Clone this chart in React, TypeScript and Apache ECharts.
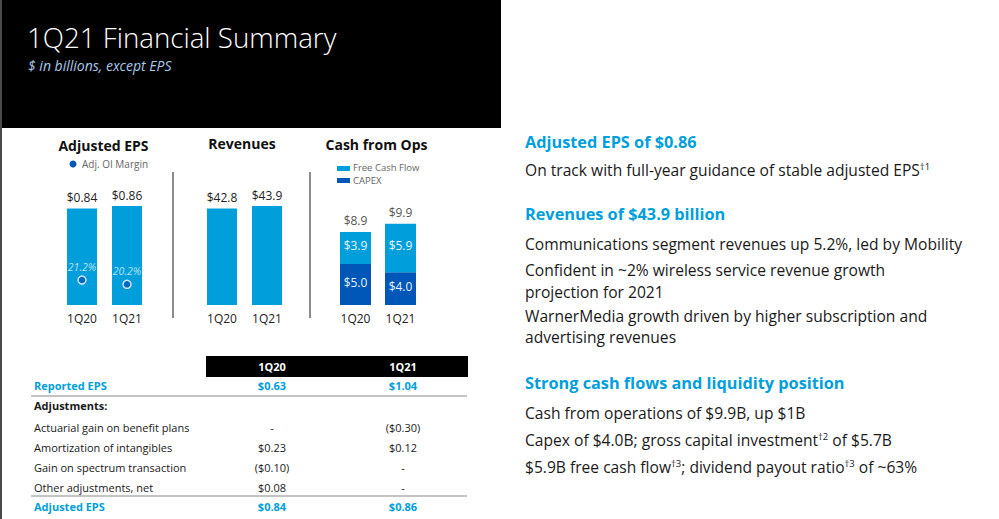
import React, { useEffect, useRef } from "react";
import * as echarts from "echarts";

// ---------- data ----------
const quarters = ["1Q20", "1Q21"];
const adjustedEps = [0.84, 0.86];
const adjOiMargin = [21.2, 20.2];
const revenues = [42.8, 43.9];
const capex = [5.0, 4.0];
const freeCashFlow = [3.9, 5.9];
const cashFromOps = [8.9, 9.9];

const tableCols = ["1Q20", "1Q21"];
const tableRowLabels = [
  "Reported EPS",
  "Adjustments:",
  "Actuarial gain on benefit plans",
  "Amortization of intangibles",
  "Gain on spectrum transaction",
  "Other adjustments, net",
  "Adjusted EPS",
];
const table1Q20 = ["$0.63", "", "-", "$0.23", "($0.10)", "$0.08", "$0.84"];
const table1Q21 = ["$1.04", "", "($0.30)", "$0.12", "-", "-", "$0.86"];

const titleText = "1Q21 Financial Summary";
const subtitleText = "$ in billions, except EPS";

const rightHeadings = [
  "Adjusted EPS of $0.86",
  "Revenues of $43.9 billion",
  "Strong cash flows and liquidity position",
];
const rightBody = [
  "On track with full-year guidance of stable adjusted EPS{sup|†1}",
  "Communications segment revenues up 5.2%, led by Mobility",
  "Confident in ~2% wireless service revenue growth",
  "projection for 2021",
  "WarnerMedia growth driven by higher subscription and",
  "advertising revenues",
  "Cash from operations of $9.9B, up $1B",
  "Capex of $4.0B; gross capital investment{sup|†2} of $5.7B",
  "$5.9B free cash flow{sup|†3}; dividend payout ratio{sup|†3} of ~63%",
];

// ---------- layout / style ----------
const FONT = "Open Sans";
const LIGHT = "#009FDB";
const DARK = "#0057B8";
const headingYs = [141.7, 214.3, 382.7];
const bodyYs = [170, 244, 270.3, 291.6, 316, 337.3, 412.7, 440, 467.3];
const rowYs = [385.7, 405.7, 427.3, 447.3, 467.3, 487.3, 506.7];
const colXs = [272, 403];

export default function App() {
  const ref = useRef<HTMLDivElement>(null);
  useEffect(() => {
    document.body.style.margin = "0";
    const chart = echarts.init(ref.current!, null, { renderer: "svg" });

    const graphic: any[] = [];
    // header black box
    graphic.push({ type: "rect", shape: { x: 0, y: 0, width: 2, height: 519 }, style: { fill: "#4a4a4a" } });
    graphic.push({ type: "rect", shape: { x: 2, y: 0, width: 499, height: 128 }, style: { fill: "#000" } });
    graphic.push({
      type: "text", x: 27, y: 36.5,
      style: { text: titleText, fill: "#fff", font: `300 27.7px "${FONT}"`, textVerticalAlign: "middle" },
    });
    graphic.push({
      type: "text", x: 28, y: 65,
      style: { text: subtitleText, fill: "#a9c9ea", font: `italic 14px "${FONT}"`, textVerticalAlign: "middle" },
    });

    // chart titles
    const titles = [
      { t: "Adjusted EPS", x: 103.5, y: 145 },
      { t: "Revenues", x: 242, y: 143 },
      { t: "Cash from Ops", x: 376.5, y: 144 },
    ];
    titles.forEach((c) =>
      graphic.push({
        type: "text", x: c.x, y: c.y,
        style: { text: c.t, fill: "#111", font: `bold 14px "${FONT}"`, textAlign: "center", textVerticalAlign: "middle" },
      })
    );

    // legends
    graphic.push({ type: "circle", shape: { cx: 73, cy: 164, r: 3.5 }, style: { fill: DARK } });
    graphic.push({
      type: "text", x: 82, y: 164,
      style: { text: "Adj. OI Margin", fill: "#666", font: `10px "${FONT}"`, textVerticalAlign: "middle" },
    });
    graphic.push({ type: "rect", shape: { x: 337, y: 166, width: 13, height: 5 }, style: { fill: LIGHT } });
    graphic.push({ type: "rect", shape: { x: 337, y: 178, width: 13, height: 5 }, style: { fill: DARK } });
    graphic.push({
      type: "text", x: 353, y: 167.5,
      style: { text: "Free Cash Flow", fill: "#666", font: `9.5px "${FONT}"`, textVerticalAlign: "middle" },
    });
    graphic.push({
      type: "text", x: 353, y: 180.7,
      style: { text: "CAPEX", fill: "#666", font: `9.5px "${FONT}"`, textVerticalAlign: "middle" },
    });

    // dividers
    [173, 310].forEach((x) =>
      graphic.push({ type: "line", shape: { x1: x, y1: 172, x2: x, y2: 318 }, style: { stroke: "#666", lineWidth: 1.5 } })
    );

    // table
    graphic.push({ type: "rect", shape: { x: 206, y: 356, width: 262, height: 21 }, style: { fill: "#000" } });
    tableCols.forEach((c, i) =>
      graphic.push({
        type: "text", x: colXs[i], y: 366.5,
        style: { text: c, fill: "#fff", font: `bold 11px "${FONT}"`, textAlign: "center", textVerticalAlign: "middle" },
      })
    );
    [396, 496].forEach((y) =>
      graphic.push({ type: "line", shape: { x1: 31, y1: y, x2: 467, y2: y }, style: { stroke: "#b0b0b0", lineWidth: 1.5 } })
    );
    tableRowLabels.forEach((label, i) => {
      const isTotal = i === 0 || i === tableRowLabels.length - 1;
      const isBold = isTotal || i === 1;
      const fill = isTotal ? LIGHT : "#1a1a1a";
      const font = `${isBold ? "bold " : ""}11px "${FONT}"`;
      graphic.push({
        type: "text", x: 34, y: rowYs[i],
        style: { text: label, fill, font, textVerticalAlign: "middle" },
      });
      [table1Q20[i], table1Q21[i]].forEach((v, j) => {
        if (!v) return;
        graphic.push({
          type: "text", x: colXs[j], y: rowYs[i],
          style: { text: v, fill, font, textAlign: "center", textVerticalAlign: "middle" },
        });
      });
    });

    // right panel
    rightHeadings.forEach((h, i) =>
      graphic.push({
        type: "text", x: 525, y: headingYs[i],
        style: { text: h, fill: LIGHT, font: `bold 16.3px "${FONT}"`, textVerticalAlign: "middle" },
      })
    );
    rightBody.forEach((b, i) => {
      const hasSup = b.indexOf("{sup|") >= 0;
      const style: any = {
        text: b,
        fill: "#1a1a1a",
        font: `15.6px "${FONT}"`,
        textVerticalAlign: "middle",
      };
      if (hasSup) {
        style.rich = {
          sup: { fontSize: 9.5, fontFamily: FONT, fill: "#1a1a1a", verticalAlign: "top", padding: [0, 0, 8, 0] },
        };
      }
      graphic.push({ type: "text", x: 525, y: bodyYs[i], style });
    });

    const catAxis = (gridIndex: number) => ({
      type: "category",
      gridIndex,
      data: quarters,
      axisLine: { show: false },
      axisTick: { show: false },
      axisLabel: { margin: 7, fontSize: 12, color: "#222", fontFamily: FONT },
    });
    const valAxis = (gridIndex: number, min: number, max: number) => ({
      type: "value", gridIndex, min, max, show: false, splitLine: { show: false },
    });

    const option: any = {
      animation: false,
      textStyle: { fontFamily: FONT },
      grid: [
        { left: 59.5, top: 190, width: 90, height: 115 },
        { left: 199.5, top: 190, width: 90, height: 115 },
        { left: 333, top: 190, width: 90, height: 115 },
      ],
      xAxis: [catAxis(0), catAxis(1), catAxis(2)],
      yAxis: [valAxis(0, 0, 1), valAxis(0, 15.4, 42.1), valAxis(1, 0, 51), valAxis(2, 0, 14)],
      series: [
        {
          type: "bar", xAxisIndex: 0, yAxisIndex: 0, data: adjustedEps, barWidth: 30,
          itemStyle: { color: LIGHT },
          label: { show: true, position: "top", distance: 5, fontSize: 12, color: "#222", formatter: (p: any) => "$" + p.value.toFixed(2) },
        },
        {
          type: "scatter", xAxisIndex: 0, yAxisIndex: 1, data: adjOiMargin, symbolSize: 8,
          itemStyle: { color: DARK, borderColor: "#fff", borderWidth: 1.5 },
          label: { show: true, position: "top", distance: 3, fontSize: 10.5, fontStyle: "italic", color: "#e4f3fc", formatter: (p: any) => p.value.toFixed(1) + "%" },
          z: 5,
        },
        {
          type: "bar", xAxisIndex: 1, yAxisIndex: 2, data: revenues, barWidth: 30,
          itemStyle: { color: LIGHT },
          label: { show: true, position: "top", distance: 5, fontSize: 12, color: "#222", formatter: (p: any) => "$" + p.value.toFixed(1) },
        },
        {
          type: "bar", xAxisIndex: 2, yAxisIndex: 3, data: capex, barWidth: 31, stack: "cash",
          itemStyle: { color: DARK },
          label: { show: true, position: "inside", offset: [0, -2], fontSize: 12, color: "#e8f4ff", formatter: (p: any) => "$" + p.value.toFixed(1) },
        },
        {
          type: "bar", xAxisIndex: 2, yAxisIndex: 3, data: freeCashFlow, barWidth: 31, stack: "cash",
          itemStyle: { color: LIGHT },
          label: { show: true, position: "inside", offset: [0, -2], fontSize: 12, color: "#e8f4ff", formatter: (p: any) => "$" + p.value.toFixed(1) },
        },
        {
          type: "scatter", xAxisIndex: 2, yAxisIndex: 3, data: cashFromOps, symbolSize: 1,
          itemStyle: { color: "rgba(0,0,0,0)" },
          label: { show: true, position: "top", distance: 5, fontSize: 12, color: "#222", formatter: (p: any) => "$" + p.value.toFixed(1) },
        },
      ],
      graphic,
    };
    chart.setOption(option);
    return () => chart.dispose();
  }, []);
  return <div ref={ref} style={{ position: "absolute", left: 0, top: 0, width: 999, height: 519, background: "#fff" }} />;
}
